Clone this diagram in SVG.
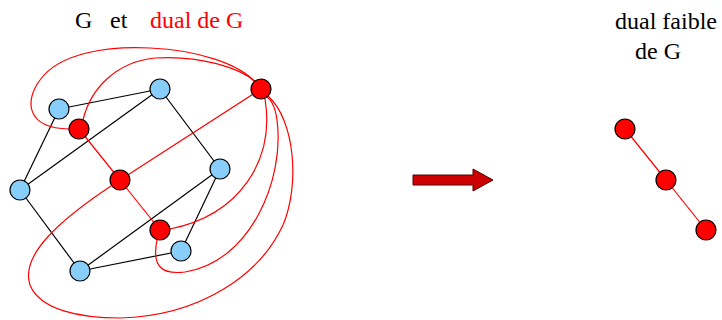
<svg xmlns="http://www.w3.org/2000/svg" width="722" height="320" viewBox="0 0 722 320">
<style>
.t{font-family:"Liberation Serif","Times New Roman",serif;font-size:24px}
.blk{fill:#000}
.red{fill:#FF0000}
.e{stroke:#000;stroke-width:1.2;fill:none}
.d{stroke:#FF0000;stroke-width:1.2;fill:none}
.vb{fill:#87CEFA;stroke:#000;stroke-width:1.2}
.vr{fill:#FF0000;stroke:#000;stroke-width:1.2}
</style>
<rect width="722" height="320" fill="#fff"/>
<g id="labels">
<text class="t blk" x="75" y="28">G</text>
<text class="t blk" x="110" y="28">et</text>
<text class="t red" x="150" y="28">dual de G</text>
<text class="t blk" x="615" y="29">dual faible</text>
<text class="t blk" x="635" y="59">de G</text>
</g>
<g id="connectors">
<line class="e" x1="59" y1="109" x2="160" y2="89"/>
<line class="e" x1="59" y1="109" x2="20" y2="190"/>
<line class="e" x1="160" y1="89" x2="20" y2="190"/>
<line class="e" x1="160" y1="89" x2="220" y2="169"/>
<line class="e" x1="20" y1="190" x2="80" y2="271"/>
<line class="e" x1="220" y1="169" x2="80" y2="271"/>
<line class="e" x1="220" y1="169" x2="181" y2="251"/>
<line class="e" x1="80" y1="271" x2="181" y2="251"/>
<line class="d" x1="79" y1="129" x2="120" y2="180"/>
<line class="d" x1="120" y1="180" x2="160" y2="230"/>
<line class="d" x1="120" y1="180" x2="261" y2="89"/>
<path class="d" d="M69,129 C25,128 25,100 40,80 C60,52 110,46 150,48 C200,50 240,65 255,82"/>
<path class="d" d="M83,120 C90,90 115,62 155,58 C200,55 240,68 256,82"/>
<path class="d" d="M170,229 C240,215 275,160 265,99"/>
<path class="d" d="M157,240 C152,265 160,275 185,272 C250,262 285,180 277,120 C275,105 270,98 266,97"/>
<path class="d" d="M111,186 C60,220 20,255 30,285 C40,310 80,318 120,318 C200,316 260,275 283,225 C300,185 295,120 268,96"/>
<line class="d" x1="625" y1="129" x2="666" y2="180"/>
<line class="d" x1="666" y1="180" x2="706" y2="230"/>
<path d="M413,175 H473 V169 L493,180 L473,191 V185 H413 Z" fill="#CC0000" stroke="#550000" stroke-width="1"/>
</g>
<g id="b1"><circle class="vb" cx="59" cy="109" r="10"/></g>
<g id="b2"><circle class="vb" cx="160" cy="89" r="10"/></g>
<g id="b3"><circle class="vb" cx="20" cy="190" r="10"/></g>
<g id="b4"><circle class="vb" cx="220" cy="169" r="10"/></g>
<g id="b5"><circle class="vb" cx="80" cy="271" r="10"/></g>
<g id="b6"><circle class="vb" cx="181" cy="251" r="10"/></g>
<g id="r1"><circle class="vr" cx="79" cy="129" r="10"/></g>
<g id="r2"><circle class="vr" cx="120" cy="180" r="10"/></g>
<g id="r3"><circle class="vr" cx="160" cy="230" r="10"/></g>
<g id="r4"><circle class="vr" cx="261" cy="89" r="10"/></g>
<g id="w1"><circle class="vr" cx="625" cy="129" r="10"/></g>
<g id="w2"><circle class="vr" cx="666" cy="180" r="10"/></g>
<g id="w3"><circle class="vr" cx="706" cy="230" r="10"/></g>
</svg>
